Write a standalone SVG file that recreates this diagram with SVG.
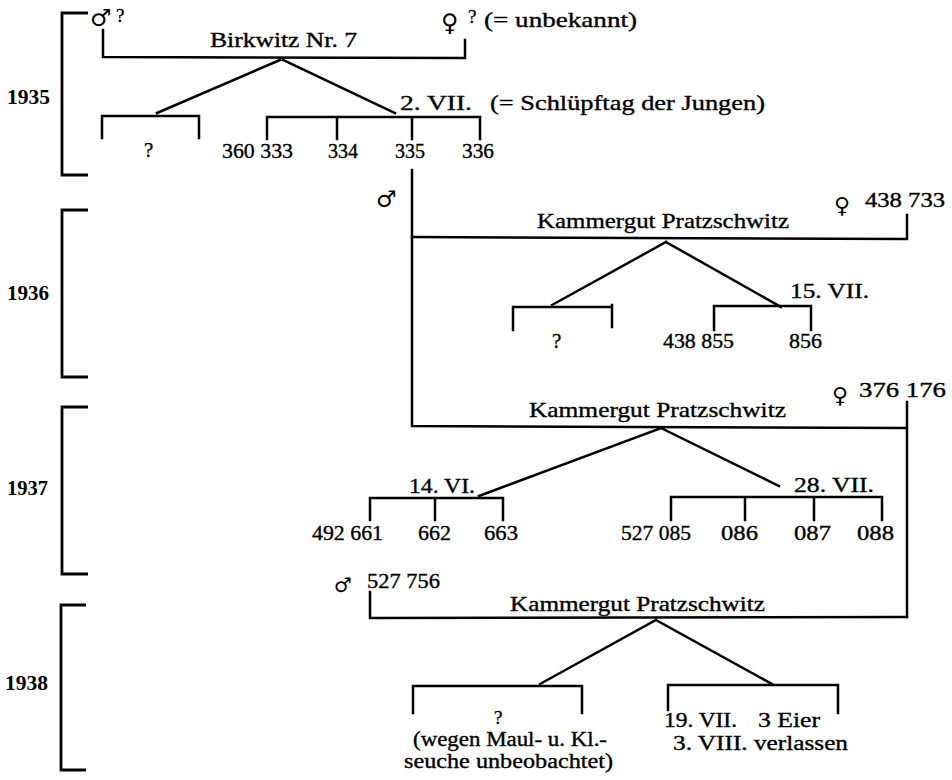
<svg xmlns="http://www.w3.org/2000/svg" width="952" height="780" viewBox="0 0 952 780">
<style>
.t{font-family:"Liberation Serif","Times New Roman",serif;font-size:21px;fill:#000;stroke:#000;stroke-width:0.35}
.b{font-family:"Liberation Serif","Times New Roman",serif;font-size:20px;font-weight:bold;fill:#000}
.q{font-family:"Liberation Serif","Times New Roman",serif;fill:#000;stroke:#000;stroke-width:0.3}
.s{font-family:"DejaVu Sans",sans-serif;fill:#000}
.c{font-family:"Liberation Serif","Times New Roman",serif;font-size:20px;fill:#000;stroke:#000;stroke-width:0.35}
.ln{fill:none;stroke:#000;stroke-width:2.5;stroke-linecap:square}
.yr{fill:none;stroke:#000;stroke-width:2.8}
</style>
<rect width="952" height="780" fill="#fff"/>
<g id="years">
<g id="y1935"><path class="yr" d="M88,13 H62 V175 H88"/><text class="b" x="7" y="104" textLength="43" lengthAdjust="spacingAndGlyphs">1935</text></g>
<g id="y1936"><path class="yr" d="M88,210 H62 V377 H88"/><text class="b" x="7" y="300" textLength="42" lengthAdjust="spacingAndGlyphs">1936</text></g>
<g id="y1937"><path class="yr" d="M88,407 H62 V574 H88"/><text class="b" x="7" y="495" textLength="41" lengthAdjust="spacingAndGlyphs">1937</text></g>
<g id="y1938"><path class="yr" d="M86,605 H61 V770 H86"/><text class="b" x="5" y="690" textLength="43" lengthAdjust="spacingAndGlyphs">1938</text></g>
</g>
<g id="connectors">
<path class="ln" d="M103,30 V57 L465,58 V40"/>
<path class="ln" d="M280,60 L157,113 M283,60 L395,113"/>
<path class="ln" d="M102,138 V116 H199 V138"/>
<path class="ln" d="M267,139 V117 H480 V139 M337,117 V139 M412,117 V139"/>
<path class="ln" d="M412,170 V426 L906,428"/>
<path class="ln" d="M412,237 L907,239 V215"/>
<path class="ln" d="M666,242 L552,305 M666,242 L781,307"/>
<path class="ln" d="M513,330 V307 H612 M612,305 V327"/>
<path class="ln" d="M714,330 V306 H811 V330"/>
<path class="ln" d="M907,402 V617"/>
<path class="ln" d="M661,428 L479,496 M661,428 L779,486"/>
<path class="ln" d="M370,520 V498 H503 V520 M435,498 V520"/>
<path class="ln" d="M671,520 V497 H882 V520 M745,497 V520 M814,497 V520"/>
<path class="ln" d="M370,592 V618 L907,617"/>
<path class="ln" d="M656,620 L540,684 M656,620 L772,684"/>
<path class="ln" d="M413,713 V686 H582 V713"/>
<path class="ln" d="M668,710 V685 H838 V713"/>
</g>
<g id="n1935-male"><text class="s" x="90" y="26" style="font-size:24px">♂</text><text class="q" x="116" y="22" style="font-size:19px">?</text></g>
<g id="n1935-female"><text class="s" x="441" y="31" style="font-size:24px">♀</text><text class="q" x="468" y="23" style="font-size:19px">?</text><text class="t" x="484" y="27" textLength="153" lengthAdjust="spacingAndGlyphs">(= unbekannt)</text></g>
<g id="n1935-site"><text class="t" x="210" y="47" textLength="147" lengthAdjust="spacingAndGlyphs">Birkwitz Nr. 7</text></g>
<g id="n1935-brood1"><text class="q" x="144" y="157" style="font-size:21px">?</text></g>
<g id="n1935-brood2">
<text class="t" x="400" y="110" textLength="72" lengthAdjust="spacingAndGlyphs">2. VII.</text>
<text class="t" x="490" y="110" textLength="275" lengthAdjust="spacingAndGlyphs">(= Schlüpftag der Jungen)</text>
<text class="t" x="222" y="158" textLength="71" lengthAdjust="spacingAndGlyphs">360 333</text>
<text class="t" x="328" y="158" textLength="30" lengthAdjust="spacingAndGlyphs">334</text>
<text class="t" x="395" y="158" textLength="30" lengthAdjust="spacingAndGlyphs">335</text>
<text class="t" x="462" y="158" textLength="32" lengthAdjust="spacingAndGlyphs">336</text>
</g>
<g id="n1936-male"><text class="s" x="376" y="207" style="font-size:23px">♂</text></g>
<g id="n1936-female"><text class="s" x="834" y="213" style="font-size:22px">♀</text><text class="t" x="865" y="207" textLength="80" lengthAdjust="spacingAndGlyphs">438 733</text></g>
<g id="n1936-site"><text class="t" x="537" y="228" textLength="252" lengthAdjust="spacingAndGlyphs">Kammergut Pratzschwitz</text></g>
<g id="n1936-brood1"><text class="q" x="552" y="348" style="font-size:21px">?</text></g>
<g id="n1936-brood2">
<text class="t" x="790" y="298" textLength="79" lengthAdjust="spacingAndGlyphs">15. VII.</text>
<text class="t" x="663" y="348" textLength="71" lengthAdjust="spacingAndGlyphs">438 855</text>
<text class="t" x="789" y="348" textLength="33" lengthAdjust="spacingAndGlyphs">856</text>
</g>
<g id="n1937-female"><text class="s" x="832" y="403" style="font-size:22px">♀</text><text class="t" x="859" y="397" textLength="87" lengthAdjust="spacingAndGlyphs">376 176</text></g>
<g id="n1937-site"><text class="t" x="529" y="417" textLength="257" lengthAdjust="spacingAndGlyphs">Kammergut Pratzschwitz</text></g>
<g id="n1937-brood1">
<text class="t" x="409" y="493" textLength="66" lengthAdjust="spacingAndGlyphs">14. VI.</text>
<text class="t" x="312" y="540" textLength="71" lengthAdjust="spacingAndGlyphs">492 661</text>
<text class="t" x="418" y="540" textLength="33" lengthAdjust="spacingAndGlyphs">662</text>
<text class="t" x="484" y="540" textLength="34" lengthAdjust="spacingAndGlyphs">663</text>
</g>
<g id="n1937-brood2">
<text class="t" x="794" y="492" textLength="80" lengthAdjust="spacingAndGlyphs">28. VII.</text>
<text class="t" x="621" y="540" textLength="70" lengthAdjust="spacingAndGlyphs">527 085</text>
<text class="t" x="721" y="540" textLength="37" lengthAdjust="spacingAndGlyphs">086</text>
<text class="t" x="794" y="540" textLength="37" lengthAdjust="spacingAndGlyphs">087</text>
<text class="t" x="857" y="540" textLength="37" lengthAdjust="spacingAndGlyphs">088</text>
</g>
<g id="n1938-male"><text class="s" x="334" y="592" style="font-size:20px">♂</text><text class="c" x="367" y="588" textLength="73" lengthAdjust="spacingAndGlyphs">527 756</text></g>
<g id="n1938-site"><text class="c" x="510" y="611" textLength="255" lengthAdjust="spacingAndGlyphs">Kammergut Pratzschwitz</text></g>
<g id="n1938-brood1">
<text class="q" x="494" y="724" style="font-size:19px">?</text>
<text class="c" x="413" y="746" textLength="194" lengthAdjust="spacingAndGlyphs">(wegen Maul- u. Kl.-</text>
<text class="c" x="404" y="768" textLength="209" lengthAdjust="spacingAndGlyphs">seuche unbeobachtet)</text>
</g>
<g id="n1938-brood2">
<text class="c" x="664" y="727" textLength="73" lengthAdjust="spacingAndGlyphs">19. VII.</text>
<text class="c" x="758" y="727" textLength="62" lengthAdjust="spacingAndGlyphs">3 Eier</text>
<text class="c" x="673" y="750" textLength="175" lengthAdjust="spacingAndGlyphs">3. VIII. verlassen</text>
</g>
</svg>
